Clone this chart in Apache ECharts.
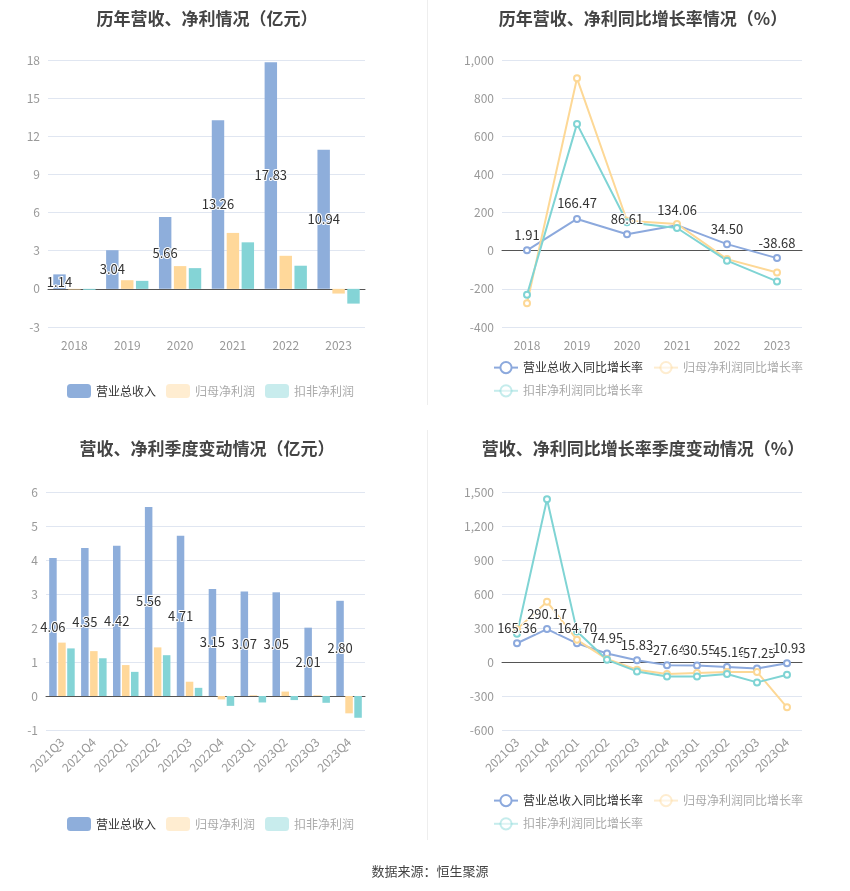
<!DOCTYPE html>
<html>
<head>
<meta charset="utf-8">
<script src="https://cdn.jsdelivr.net/npm/echarts@6/dist/echarts.min.js"></script>
<style>
  html, body { margin: 0; padding: 0; background: #fff; }
  #main { width: 850px; height: 891px; }
</style>
</head>
<body>
<div id="main"></div>
<script>
// 年度数据（亿元）
const years = ["2018", "2019", "2020", "2021", "2022", "2023"];
const revenue = [1.14, 3.04, 5.66, 13.26, 17.83, 10.94];
const netProfit = [-0.05, 0.68, 1.79, 4.4, 2.6, -0.37];
const deductedProfit = [-0.08, 0.63, 1.63, 3.66, 1.82, -1.16];

// 年度同比增长率（%）
const revenueYoy = [1.91, 166.47, 86.61, 134.06, 34.5, -38.68];
const netProfitYoy = [-275, 904, 157, 140, -44, -114];
const deductedYoy = [-231, 665, 149, 119, -52, -161];

// 季度数据（亿元）
const quarters = ["2021Q3", "2021Q4", "2022Q1", "2022Q2", "2022Q3", "2022Q4", "2023Q1", "2023Q2", "2023Q3", "2023Q4"];
const qRevenue = [4.06, 4.35, 4.42, 5.56, 4.71, 3.15, 3.07, 3.05, 2.01, 2.8];
const qNetProfit = [1.57, 1.32, 0.91, 1.43, 0.42, -0.1, 0.02, 0.13, 0.02, -0.51];
const qDeducted = [1.4, 1.11, 0.71, 1.2, 0.24, -0.29, -0.19, -0.12, -0.2, -0.64];

// 季度同比增长率（%）
const qRevenueYoy = [165.36, 290.17, 164.7, 74.95, 15.83, -27.64, -30.55, -45.16, -57.25, -10.93];
const qNetProfitYoy = [290, 532, 196, 26, -68, -106, -97, -88, -88, -400];
const qDeductedYoy = [249, 1436, 270, 19, -83, -127, -127, -106, -180, -112];

const barNames = ["营业总收入", "归母净利润", "扣非净利润"];
const lineNames = ["营业总收入同比增长率", "归母净利润同比增长率", "扣非净利润同比增长率"];

const FONT = '"Noto Sans CJK SC", "Noto Sans", sans-serif';
const cBlue = "#8EAEDB", cYellow = "#FFD89A", cCyan = "#84D4D6";
const lBlue = "#8CA9DD", lYellow = "#FDD896", lCyan = "#7FD4D4";

const labelStyle = {
  color: "#333",
  fontSize: 13,
  fontFamily: FONT,
  textBorderColor: "#fff",
  textBorderWidth: 2
};

function titleOpt(text, left, top) {
  return {
    text: text,
    left: left,
    top: top,
    textAlign: "center",
    textStyle: { fontSize: 17, fontWeight: "bold", color: "#444", fontFamily: FONT }
  };
}

// 第一项正常显示，其余两项淡化
function legendData(names, isLine) {
  return names.map(function (n, i) {
    if (i === 0) return { name: n, textStyle: { color: "#333" } };
    const o = { name: n, textStyle: { color: "#aaa" }, itemStyle: { opacity: 0.45 } };
    if (isLine) o.lineStyle = { opacity: 0.45 };
    return o;
  });
}

function legendOpt(names, left, top, width, isLine) {
  return {
    data: legendData(names, isLine),
    left: left,
    top: top,
    width: width,
    itemWidth: 24,
    itemHeight: 14,
    itemGap: 10,
    textStyle: { fontSize: 12, fontFamily: FONT },
    selectedMode: false
  };
}

function catAxis(data, gridIndex, rotate) {
  return {
    type: "category",
    data: data,
    gridIndex: gridIndex,
    axisTick: { alignWithLabel: true, lineStyle: { color: "#555" } },
    axisLine: { lineStyle: { color: "#555" } },
    axisLabel: { color: "#999", fontSize: 12, fontFamily: FONT, interval: 0, rotate: rotate || 0, margin: rotate ? 10 : 12 }
  };
}

function valAxis(min, max, interval, gridIndex) {
  return {
    type: "value",
    min: min,
    max: max,
    interval: interval,
    gridIndex: gridIndex,
    axisLabel: { color: "#999", fontSize: 12, fontFamily: FONT },
    splitLine: { lineStyle: { color: "#E0E6F1" } }
  };
}

function barSeries(name, data, color, idx, withLabel) {
  const s = {
    name: name,
    type: "bar",
    data: data,
    xAxisIndex: idx,
    yAxisIndex: idx,
    barGap: "20%",
    barCategoryGap: "20%",
    itemStyle: { color: color },
    legendHoverLink: false
  };
  if (withLabel) {
    s.label = Object.assign({ show: true, position: "inside", formatter: function (p) { return p.value.toFixed(2); } }, labelStyle);
  }
  return s;
}

function lineSeries(name, data, color, idx, withLabel) {
  const s = {
    name: name,
    type: "line",
    data: data,
    xAxisIndex: idx,
    yAxisIndex: idx,
    symbol: "emptyCircle",
    symbolSize: 6,
    lineStyle: { color: color, width: 2 },
    itemStyle: { color: color, borderWidth: 2 }
  };
  if (withLabel) {
    s.label = Object.assign({ show: true, position: "top", formatter: function (p) { return p.value.toFixed(2); } }, labelStyle);
  }
  return s;
}

const chart = echarts.init(document.getElementById("main"));
chart.setOption({
  animation: false,
  textStyle: { fontFamily: FONT },
  title: [
    titleOpt("历年营收、净利情况（亿元）", 202, 5),
    titleOpt("历年营收、净利同比增长率情况（%）", 638, 5),
    titleOpt("营收、净利季度变动情况（亿元）", 202, 435),
    titleOpt("营收、净利同比增长率季度变动情况（%）", 638, 435),
    { text: "数据来源：恒生聚源", left: 425, top: 860, textAlign: "center",
      textStyle: { fontSize: 13, fontWeight: "normal", color: "#444", fontFamily: FONT } }
  ],
  legend: [
    legendOpt(barNames, 62, 379, 320, false),
    legendOpt(lineNames, 488, 356, 330, true),
    legendOpt(barNames, 62, 812, 320, false),
    legendOpt(lineNames, 488, 789, 330, true)
  ],
  grid: [
    { left: 48, right: 485, top: 60, bottom: 564 },
    { left: 502, right: 48, top: 60, bottom: 564 },
    { left: 46, right: 485, top: 492, bottom: 161 },
    { left: 502, right: 48, top: 492, bottom: 161 }
  ],
  xAxis: [
    catAxis(years, 0),
    catAxis(years, 1),
    catAxis(quarters, 2, 45),
    catAxis(quarters, 3, 45)
  ],
  yAxis: [
    valAxis(-3, 18, 3, 0),
    valAxis(-400, 1000, 200, 1),
    valAxis(-1, 6, 1, 2),
    valAxis(-600, 1500, 300, 3)
  ],
  series: [
    barSeries(barNames[0], revenue, cBlue, 0, true),
    barSeries(barNames[1], netProfit, cYellow, 0),
    barSeries(barNames[2], deductedProfit, cCyan, 0),
    lineSeries(lineNames[0], revenueYoy, lBlue, 1, true),
    lineSeries(lineNames[1], netProfitYoy, lYellow, 1),
    lineSeries(lineNames[2], deductedYoy, lCyan, 1),
    barSeries(barNames[0], qRevenue, cBlue, 2, true),
    barSeries(barNames[1], qNetProfit, cYellow, 2),
    barSeries(barNames[2], qDeducted, cCyan, 2),
    lineSeries(lineNames[0], qRevenueYoy, lBlue, 3, true),
    lineSeries(lineNames[1], qNetProfitYoy, lYellow, 3),
    lineSeries(lineNames[2], qDeductedYoy, lCyan, 3)
  ],
  graphic: [
    { type: "line", shape: { x1: 427.5, y1: 0, x2: 427.5, y2: 405 }, style: { stroke: "#eeeeee", lineWidth: 1 } },
    { type: "line", shape: { x1: 427.5, y1: 430, x2: 427.5, y2: 840 }, style: { stroke: "#eeeeee", lineWidth: 1 } }
  ]
});
</script>
</body>
</html>
